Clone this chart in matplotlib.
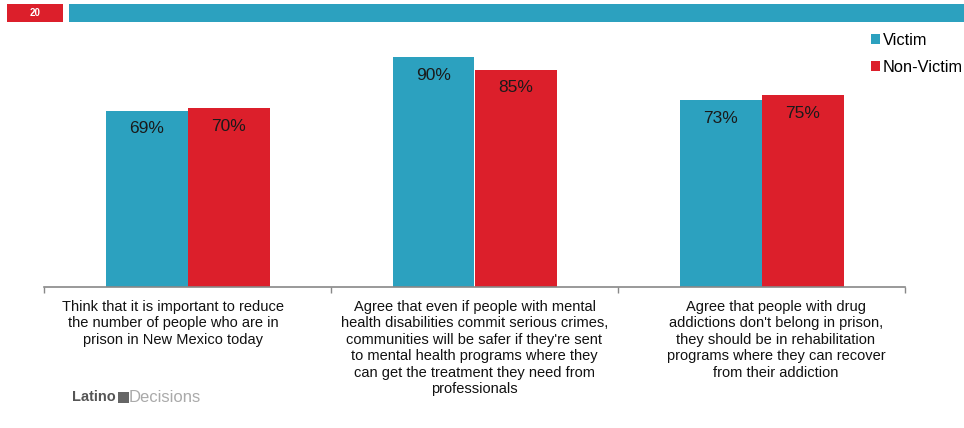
import matplotlib
matplotlib.use("Agg")
import matplotlib.pyplot as plt
from matplotlib.patches import Rectangle
import numpy as np

plt.rcParams['font.family'] = ['Liberation Sans', 'DejaVu Sans']

categories = [
    "Think that it is important to reduce\nthe number of people who are in\nprison in New Mexico today",
    "Agree that even if people with mental\nhealth disabilities commit serious crimes,\ncommunities will be safer if they're sent\nto mental health programs where they\ncan get the treatment they need from\nprofessionals",
    "Agree that people with drug\naddictions don't belong in prison,\nthey should be in rehabilitation\nprograms where they can recover\nfrom their addiction",
]
victim = [69, 90, 73]
non_victim = [70, 85, 75]
series_names = ["Victim", "Non-Victim"]
page_number = "20"

TEAL = "#2CA1BF"
RED = "#DC1F2B"
W, H = 964, 428

fig = plt.figure(figsize=(W / 100, H / 100), dpi=100)

# header bars
fig.patches.append(Rectangle((7 / W, 1 - 22 / H), 56 / W, 18 / H, transform=fig.transFigure,
                             facecolor=RED, edgecolor='none'))
fig.patches.append(Rectangle((69 / W, 1 - 22 / H), (W - 69) / W, 18 / H, transform=fig.transFigure,
                             facecolor=TEAL, edgecolor='none'))
fig.text(35 / W, 1 - 13 / H, page_number, color='white', fontsize=7, fontweight='bold',
         ha='center', va='center')

ax = fig.add_axes([44 / W, 1 - 287 / H, (905 - 44) / W, 255.6 / H])
x = np.arange(len(categories))
bw = 82 / 287
b1 = ax.bar(x - bw / 2, victim, bw, color=TEAL, label=series_names[0])
b2 = ax.bar(x + bw / 2, non_victim, bw, color=RED, label=series_names[1])
for bars, vals in ((b1, victim), (b2, non_victim)):
    for b, v in zip(bars, vals):
        ax.annotate(f"{v}%", (b.get_x() + b.get_width() / 2, v), xytext=(0, -13),
                    textcoords='offset points', ha='center', va='center', fontsize=12.5,
                    color='#1a1a1a')

ax.set_xlim(-0.5, 2.5)
ax.set_ylim(0, 100)
ax.set_yticks([])
for s in ('top', 'right', 'left'):
    ax.spines[s].set_visible(False)
ax.spines['bottom'].set_color('#888888')
ax.spines['bottom'].set_linewidth(1.2)
ax.set_xticks([-0.5, 0.5, 1.5, 2.5])
ax.set_xticklabels([])
ax.tick_params(axis='x', length=4, color='#888888', width=1)
label_shift = [-0.05, 0.0, 0.05]
for i, c in enumerate(categories):
    ax.text(i + label_shift[i], -5, c, ha='center', va='top', fontsize=10.5, linespacing=1.23,
            transform=ax.transData, color='#111111')

leg = fig.legend(handles=[b1, b2], labels=series_names, loc='upper left',
                 bbox_to_anchor=(856 / W, 1 - 18 / H), frameon=False, fontsize=11.8,
                 handlelength=0.55, handleheight=0.55, handletextpad=0.2, labelspacing=0.75)

# logo
fig.text(72 / W, 1 - 397 / H, "Latino", color='#555555', fontsize=10.5, fontweight='bold',
         ha='left', va='center')
fig.patches.append(Rectangle((118 / W, 1 - 403 / H), 11 / W, 11 / H, transform=fig.transFigure,
                             facecolor='#666666', edgecolor='none'))
fig.text(129 / W, 1 - 397 / H, "Decisions", color='#aaaaaa', fontsize=12,
         ha='left', va='center')

fig.savefig("out.png", dpi=100)
